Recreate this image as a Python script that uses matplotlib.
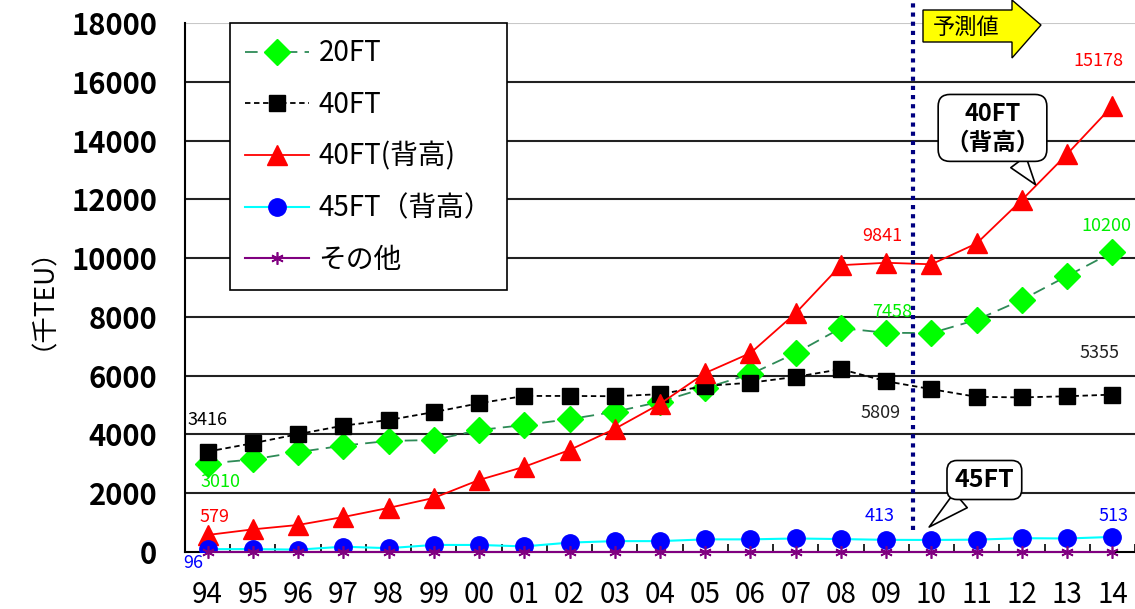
import matplotlib
matplotlib.use("Agg")
import matplotlib.pyplot as plt
from matplotlib.patches import Polygon
import numpy as np

plt.rcParams['font.family'] = ['Noto Sans CJK JP', 'DejaVu Sans']

years = ["94", "95", "96", "97", "98", "99", "00", "01", "02", "03", "04",
         "05", "06", "07", "08", "09", "10", "11", "12", "13", "14"]
ft20 = [3010, 3150, 3400, 3620, 3780, 3810, 4150, 4320, 4520, 4770, 5110,
        5580, 6050, 6770, 7620, 7458, 7450, 7900, 8580, 9390, 10200]
ft40 = [3416, 3700, 4010, 4300, 4490, 4760, 5060, 5310, 5310, 5300, 5370,
        5650, 5760, 5960, 6220, 5809, 5540, 5280, 5260, 5300, 5355]
ft40hc = [579, 770, 920, 1190, 1500, 1840, 2450, 2900, 3470, 4190, 5040,
          6090, 6770, 8130, 9760, 9841, 9790, 10500, 11980, 13540, 15178]
ft45hc = [96, 100, 80, 180, 130, 240, 240, 190, 320, 370, 370,
          430, 430, 460, 440, 413, 410, 420, 470, 460, 513]
other = [15, 15, 15, 15, 15, 15, 15, 15, 15, 15, 15,
         15, 15, 15, 15, 15, 15, 15, 15, 15, 15]
series_names = ["20FT", "40FT", "40FT(背高)", "45FT（背高）", "その他"]
yticks = [0, 2000, 4000, 6000, 8000, 10000, 12000, 14000, 16000, 18000]

W, H = 1135, 609
fig = plt.figure(figsize=(W / 100, H / 100), dpi=100)
ax = fig.add_axes([185 / W, 1 - 552 / H, 950 / W, 529 / H])
x = np.arange(len(years))

ax.set_xlim(-0.5, len(years) - 0.5)
ax.set_ylim(0, 18000)
ax.set_yticks(yticks)
ax.set_yticklabels([str(v) for v in yticks], fontsize=21, fontweight='bold')
for v in yticks[1:-1]:
    ax.axhline(v, color='#222222', lw=1.5, zorder=1)
ax.axhline(18000, color='#c8c8c8', lw=1.5, zorder=1)
ax.set_xticks(x)
ax.set_xticklabels(years, fontsize=20)
ax.set_xticks(np.arange(-0.5, len(years), 1), minor=True)
ax.tick_params(axis='x', which='major', length=0, pad=20)
ax.tick_params(axis='x', which='minor', length=6, direction='in', width=1.2)
ax.tick_params(axis='y', length=0, pad=20)
for s in ['top', 'right']:
    ax.spines[s].set_visible(False)
ax.spines['left'].set_linewidth(1.5)
ax.spines['bottom'].set_linewidth(1.5)

l1, = ax.plot(x, ft20, color='#2e8b57', ls=(0, (7, 4)), lw=1.3, marker='D',
              ms=13, mfc='#00ff00', mec='#00ff00', zorder=4, label=series_names[0])
l2, = ax.plot(x, ft40, color='black', ls=(0, (3, 2)), lw=1.3, marker='s',
              ms=12, mfc='black', mec='black', zorder=4, label=series_names[1])
l3, = ax.plot(x, ft40hc, color='red', ls='-', lw=1.3, marker='^',
              ms=15, mfc='red', mec='red', zorder=4, label=series_names[2])
l4, = ax.plot(x, ft45hc, color='cyan', ls='-', lw=1.5, marker='o',
              ms=12.5, mfc='blue', mec='blue', zorder=4, label=series_names[3])
l5, = ax.plot(x, other, color='purple', ls='-', lw=1.5, marker=(6, 2, 0),
              ms=9, mec='purple', mew=1.2, zorder=5, label=series_names[4],
              clip_on=False)

leg = ax.legend(handles=[l1, l2, l3, l4, l5], loc='upper left',
                bbox_to_anchor=(0.047, 1.0), borderaxespad=0, fontsize=20,
                frameon=True, fancybox=False, edgecolor='black', framealpha=1,
                labelspacing=0.78, handlelength=2.3, borderpad=0.55,
                handletextpad=0.35)
leg.get_frame().set_linewidth(1.2)
leg.set_zorder(10)

def lab(i, series, text, dx, dy, color):
    ax.annotate(text, xy=(i, series[i]), xytext=(dx, dy), textcoords='offset points',
                ha='center', va='center', fontsize=13, color=color, zorder=6,
                annotation_clip=False)

last = len(years) - 1
lab(0, ft40, "3416", 0, 23, 'black')
lab(0, ft20, "3010", 9, -13, '#00ee00')
lab(0, ft40hc, "579", 5, 13, 'red')
lab(0, ft45hc, "96", -10, -10, 'blue')
lab(15, ft40hc, "9841", -3, 19, 'red')
lab(15, ft20, "7458", 4, 15, '#00ee00')
lab(15, ft40, "5809", -4, -23, '#222222')
lab(15, ft45hc, "413", -5, 17, 'blue')
lab(last, ft40hc, "15178", -10, 32, 'red')
lab(last, ft20, "10200", -4, 19, '#00ee00')
lab(last, ft40, "5355", -9, 30, '#222222')
lab(last, ft45hc, "513", 1, 15, 'blue')

# forecast divider
ax.plot([15.6, 15.6], [750, 18800], color='#000080', ls=(0, (1, 1.2)), lw=3,
        clip_on=False, zorder=7)

# callouts
ax.annotate("40FT\n（背高）", xy=(18.3, 12500), xytext=(17.35, 14430),
            textcoords='data', ha='center', va='center', fontsize=17,
            fontweight='bold', zorder=8, linespacing=1.25,
            bbox=dict(boxstyle='round,pad=0.3,rounding_size=0.5', fc='white', ec='black', lw=1.2),
            arrowprops=dict(arrowstyle='wedge,tail_width=0.8', fc='white', ec='black',
                            lw=1.2, shrinkA=0, shrinkB=0))
ax.annotate("45FT", xy=(15.95, 850), xytext=(17.17, 2450),
            textcoords='data', ha='center', va='center', fontsize=18,
            fontweight='bold', zorder=8,
            bbox=dict(boxstyle='round,pad=0.3,rounding_size=0.4', fc='white', ec='black', lw=1.2),
            arrowprops=dict(arrowstyle='wedge,tail_width=0.8', fc='white', ec='black',
                            lw=1.2, shrinkA=0, shrinkB=0))

# yellow forecast arrow (figure pixels)
pts = [(923, 10), (1012, 10), (1012, 0), (1041, 25), (1012, 58), (1012, 42), (923, 42)]
poly = Polygon([(px / W, 1 - py / H) for px, py in pts], closed=True,
               transform=fig.transFigure, fc='#ffff00', ec='black', lw=1, zorder=9)
fig.patches.append(poly)
fig.text(966 / W, 1 - 27 / H, "予測値", ha='center', va='center', fontsize=16,
         zorder=10)

fig.text(30 / W, 1 - 285 / H, "（千TEU）", rotation=90, ha='center', va='center',
         fontsize=19)

fig.savefig("out.png", dpi=100)
